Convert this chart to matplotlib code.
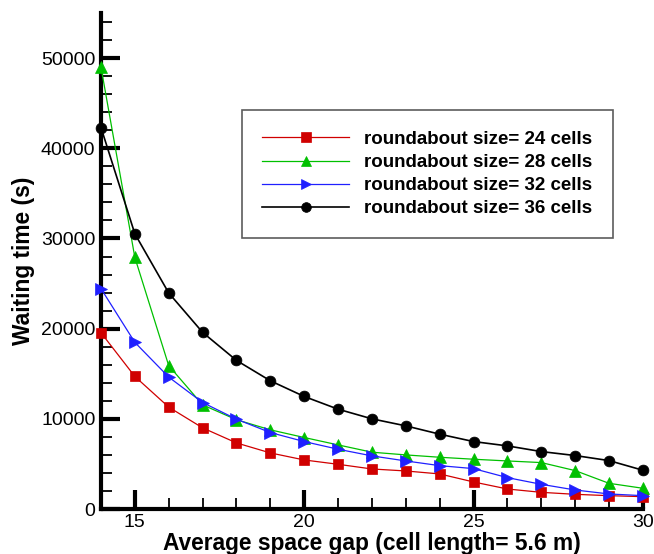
import matplotlib
matplotlib.use("Agg")
import matplotlib.pyplot as plt
from matplotlib.ticker import MultipleLocator

plt.rcParams['font.family'] = ['Liberation Sans', 'DejaVu Sans']

gap = [14, 15, 16, 17, 18, 19, 20, 21, 22, 23, 24, 25, 26, 27, 28, 29, 30]
size24 = [19550, 14700, 11300, 9000, 7330, 6220, 5440, 4960, 4440, 4220, 3890, 3000, 2220, 1850, 1630, 1480, 1370]
size28 = [49000, 27900, 15900, 11550, 9900, 8780, 7930, 7110, 6300, 6000, 5740, 5520, 5330, 5150, 4260, 2850, 2300]
size32 = [24440, 18480, 14630, 11810, 9960, 8480, 7480, 6630, 5890, 5330, 4810, 4480, 3480, 2740, 2110, 1670, 1480]
size36 = [42300, 30520, 23960, 19590, 16480, 14220, 12480, 11070, 10000, 9220, 8300, 7480, 7000, 6370, 5930, 5370, 4300]
labels = ["roundabout size= 24 cells", "roundabout size= 28 cells",
          "roundabout size= 32 cells", "roundabout size= 36 cells"]

fig = plt.figure(figsize=(6.54, 5.54), dpi=100)
ax = fig.add_axes([0.1544, 0.0812, 0.983 - 0.1544, 0.9765 - 0.0812])

styles = [
    dict(color='#d00000', marker='s', ms=7),
    dict(color='#00c000', marker='^', ms=8),
    dict(color='#2020ff', marker='>', ms=8),
    dict(color='black', marker='o', ms=7.8),
]
for ys, lab, st in zip([size24, size28, size32, size36], labels, styles):
    ax.plot(gap, ys, color=st['color'], marker=st['marker'], ms=st['ms'],
            lw=0.9 if st['color'] != 'black' else 1.2,
            mfc=st['color'], mec=st['color'], mew=0.5, label=lab, clip_on=False, zorder=3)

ax.set_xlim(14, 30)
ax.set_ylim(0, 55000)
ax.xaxis.set_major_locator(MultipleLocator(5))
ax.xaxis.set_minor_locator(MultipleLocator(1))
ax.yaxis.set_major_locator(MultipleLocator(10000))
ax.yaxis.set_minor_locator(MultipleLocator(2000))
ax.spines['top'].set_visible(False)
ax.spines['right'].set_visible(False)
for s in ['left', 'bottom']:
    ax.spines[s].set_linewidth(3)
ax.tick_params(which='major', direction='in', length=14, width=3, labelsize=14)
ax.tick_params(which='minor', direction='in', length=8, width=1.3)
ax.tick_params(axis='y', which='major', pad=4)
ax.tick_params(axis='x', which='major', pad=3.5)
ax.tick_params(axis='y', which='both', right=False)
ax.tick_params(axis='x', which='both', top=False)

ax.set_xlabel("Average space gap (cell length= 5.6 m)", fontsize=16.4, fontweight='bold')
ax.set_ylabel("Waiting time (s)", fontsize=16.4, fontweight='bold')
ax.yaxis.set_label_coords(-0.121, 0.5)
ax.xaxis.set_label_coords(0.5, -0.047)

leg = ax.legend(loc='upper left', bbox_to_anchor=(0.260, 0.804), frameon=True, fancybox=False,
                edgecolor='#333333', prop={'weight': 'bold', 'size': 13.5},
                handlelength=4.6, handletextpad=0.8, borderpad=1.1, labelspacing=0.32,
                borderaxespad=0)
leg.get_frame().set_linewidth(1.2)
for h in leg.legend_handles:
    h.set_markersize(7)

fig.savefig("out.png", dpi=100)
